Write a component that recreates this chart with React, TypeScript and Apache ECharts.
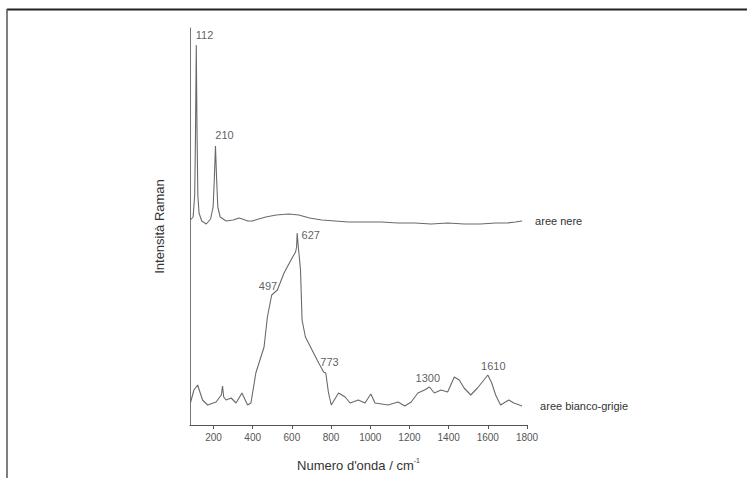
import React, { useEffect, useRef } from "react";
import * as echarts from "echarts";

// Wavenumber (cm-1) and relative intensity (arbitrary units, offset per trace)
const areeNere: [number, number][] = [
  [82, 205], [96, 208], [104, 230], [108, 290], [112, 380], [116, 290], [120, 230], [126, 212],
  [140, 204], [163, 201], [185, 206], [198, 218], [204, 245], [210, 279], [216, 245], [222, 218],
  [234, 208], [264, 204], [300, 205], [330, 207], [347, 206], [375, 204], [398, 204], [430, 206],
  [467, 208], [520, 210], [585, 211], [635, 210], [690, 207], [752, 205], [820, 204], [889, 203],
  [970, 203], [1056, 203], [1140, 202], [1228, 202], [1310, 201], [1395, 202], [1480, 201],
  [1562, 201], [1640, 202], [1699, 202], [1740, 203], [1775, 204],
];

const areeBiancoGrigie: [number, number][] = [
  [82, 22], [100, 35], [119, 40], [144, 25], [170, 20], [213, 23], [240, 30], [246, 39], [252, 28],
  [264, 25], [290, 27], [315, 22], [345, 32], [374, 20], [391, 22], [416, 52], [458, 78], [475, 108],
  [497, 130], [526, 135], [560, 152], [601, 167], [619, 173], [624, 178], [627, 192], [632, 180],
  [644, 155], [652, 105], [669, 88], [703, 75], [737, 62], [762, 53], [773, 52], [787, 32],
  [801, 20], [838, 32], [872, 28], [897, 22], [939, 25], [973, 22], [1003, 31], [1024, 22],
  [1091, 20], [1142, 23], [1176, 19], [1209, 23], [1243, 32], [1277, 35], [1302, 38], [1327, 32],
  [1361, 35], [1395, 33], [1429, 48], [1454, 45], [1479, 37], [1513, 30], [1547, 37], [1580, 45],
  [1600, 50], [1620, 42], [1640, 30], [1665, 20], [1707, 25], [1733, 22], [1775, 19],
];

// Peak annotations: [x, y, text]
const peakLabels: [number, number, string][] = [
  [154, 390, "112"],
  [256, 290, "210"],
  [696, 190, "627"],
  [478, 139, "497"],
  [792, 63, "773"],
  [1294, 47, "1300"],
  [1628, 59, "1610"],
];

const xTicks = [200, 400, 600, 800, 1000, 1200, 1400, 1600, 1800];

export default function App() {
  const ref = useRef<HTMLDivElement>(null);
  useEffect(() => {
    if (!ref.current) return;
    const chart = echarts.init(ref.current, null, { renderer: "svg" });
    const font = "Liberation Sans, Arial, sans-serif";
    chart.setOption({
      animation: false,
      backgroundColor: "#ffffff",
      grid: { left: 190, right: 220, top: 28, bottom: 53 },
      xAxis: {
        type: "value",
        min: 80,
        max: 1800,
        name: "Numero d'onda / cm{sup|-1}",
        nameLocation: "middle",
        nameGap: 32,
        nameTextStyle: {
          fontFamily: font,
          fontSize: 13,
          color: "#333",
          rich: { sup: { fontSize: 7, color: "#333", fontFamily: font, padding: [0, 0, 9, 0] } },
        },
        axisLine: { show: true, lineStyle: { color: "#555", width: 1 } },
        axisTick: { show: true, customValues: xTicks, length: 4, lineStyle: { color: "#555" } },
        axisLabel: {
          customValues: xTicks,
          formatter: (v: number) => String(v),
          fontFamily: font,
          fontSize: 10,
          color: "#555",
          margin: 7,
        },
        splitLine: { show: false },
      },
      yAxis: {
        type: "value",
        min: 0,
        max: 397,
        name: "Intensità Raman",
        nameLocation: "middle",
        nameGap: 24,
        nameTextStyle: { fontFamily: font, fontSize: 13, color: "#333" },
        axisLine: { show: true, lineStyle: { color: "#777", width: 1 } },
        axisTick: { show: false },
        axisLabel: { show: false },
        splitLine: { show: false },
      },
      graphic: [
        { type: "line", shape: { x1: 7, y1: 9.5, x2: 747, y2: 9.5 }, style: { stroke: "#222", lineWidth: 2 } },
        { type: "line", shape: { x1: 7, y1: 9, x2: 7, y2: 478 }, style: { stroke: "#555", lineWidth: 1.5 } },
      ],
      series: [
        {
          name: "aree nere",
          type: "line",
          data: areeNere,
          showSymbol: false,
          symbol: "none",
          lineStyle: { color: "#6a6a6a", width: 1.1 },
          endLabel: {
            show: true,
            formatter: "{a}",
            distance: 13,
            fontFamily: font,
            fontSize: 11,
            color: "#333",
          },
        },
        {
          name: "aree bianco-grigie",
          type: "line",
          data: areeBiancoGrigie,
          showSymbol: false,
          symbol: "none",
          lineStyle: { color: "#6a6a6a", width: 1.1 },
          endLabel: {
            show: true,
            formatter: "{a}",
            distance: 18,
            fontFamily: font,
            fontSize: 11,
            color: "#333",
          },
        },
        {
          name: "labels",
          type: "scatter",
          data: peakLabels,
          symbolSize: 0,
          itemStyle: { color: "#333" },
          label: {
            show: true,
            position: "inside",
            formatter: (p: any) => p.data[2],
            fontFamily: font,
            fontSize: 11,
            color: "#333",
          },
          silent: true,
        },
      ],
    });
    return () => chart.dispose();
  }, []);
  return (
    <div
      ref={ref}
      style={{ position: "fixed", left: 0, top: 0, width: 747, height: 478 }}
    />
  );
}
